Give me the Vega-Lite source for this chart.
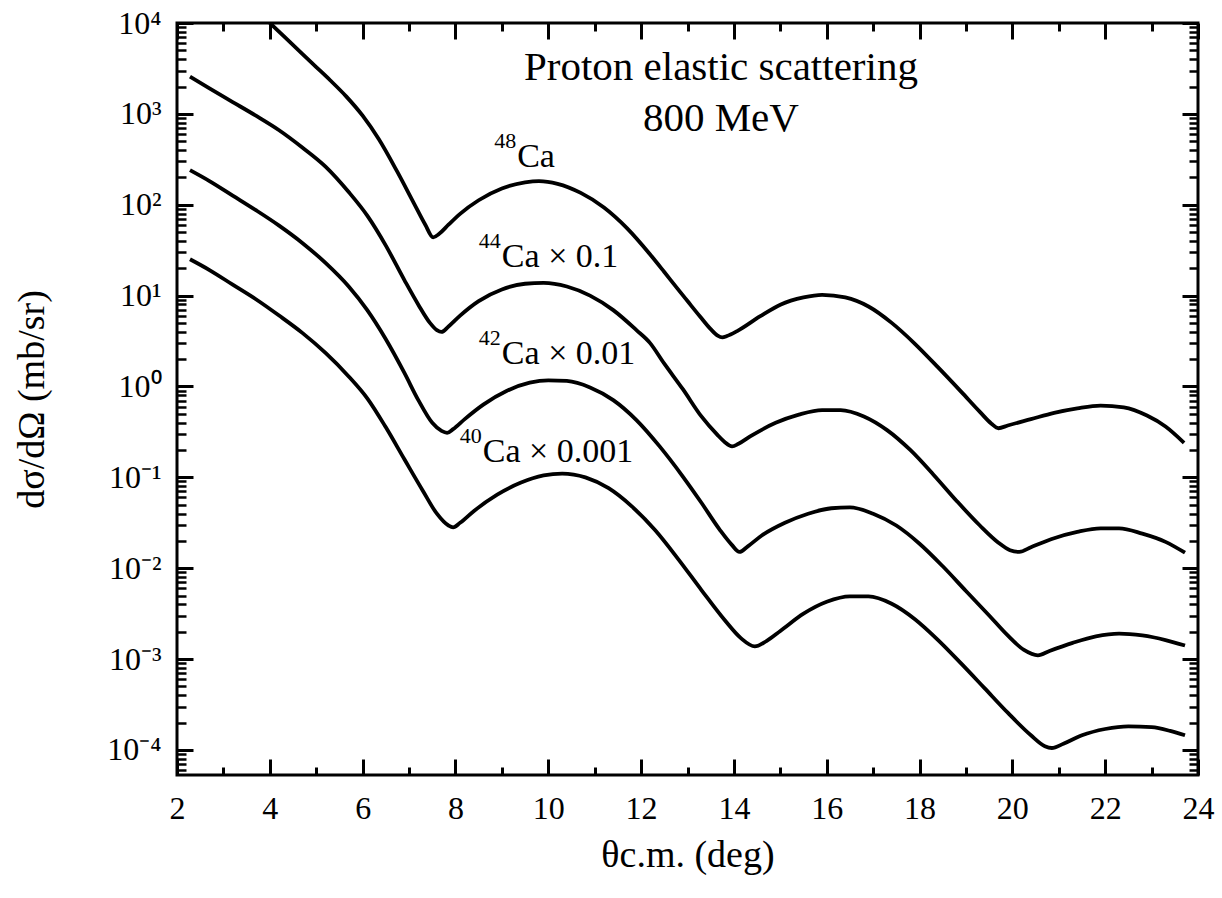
{
  "$schema": "https://vega.github.io/schema/vega-lite/v6.json",
  "width": 1021,
  "height": 752,
  "autosize": {"type": "none"},
  "padding": {"left": 177, "top": 23, "right": 24, "bottom": 123},
  "background": "white",
  "config": {
    "view": {"stroke": "black", "strokeWidth": 3},
    "font": "Liberation Serif",
    "axis": {
      "grid": false,
      "domain": false,
      "tickColor": "black",
      "labelColor": "black",
      "titleColor": "black",
      "labelFont": "Liberation Serif",
      "titleFont": "Liberation Serif",
      "titleFontWeight": "normal",
      "labelFlush": false,
      "labelOverlap": false
    }
  },
  "datasets": {
    "curves": [
      {"nucleus": "48Ca", "theta": 3.5, "xs": 17780},
      {"nucleus": "48Ca", "theta": 3.9, "xs": 11220},
      {"nucleus": "48Ca", "theta": 4.3, "xs": 7161},
      {"nucleus": "48Ca", "theta": 4.7, "xs": 4571},
      {"nucleus": "48Ca", "theta": 5.0, "xs": 3273},
      {"nucleus": "48Ca", "theta": 5.3, "xs": 2344},
      {"nucleus": "48Ca", "theta": 5.65, "xs": 1549},
      {"nucleus": "48Ca", "theta": 6.0, "xs": 955},
      {"nucleus": "48Ca", "theta": 6.35, "xs": 525},
      {"nucleus": "48Ca", "theta": 6.74, "xs": 234},
      {"nucleus": "48Ca", "theta": 7.1, "xs": 105},
      {"nucleus": "48Ca", "theta": 7.35, "xs": 60.3},
      {"nucleus": "48Ca", "theta": 7.52, "xs": 43.7},
      {"nucleus": "48Ca", "theta": 7.65, "xs": 47.9},
      {"nucleus": "48Ca", "theta": 7.85, "xs": 60.3},
      {"nucleus": "48Ca", "theta": 8.1, "xs": 79.4},
      {"nucleus": "48Ca", "theta": 8.5, "xs": 112},
      {"nucleus": "48Ca", "theta": 9.0, "xs": 151},
      {"nucleus": "48Ca", "theta": 9.5, "xs": 176},
      {"nucleus": "48Ca", "theta": 9.8, "xs": 182},
      {"nucleus": "48Ca", "theta": 10.2, "xs": 170},
      {"nucleus": "48Ca", "theta": 10.7, "xs": 135},
      {"nucleus": "48Ca", "theta": 11.2, "xs": 93.3},
      {"nucleus": "48Ca", "theta": 11.7, "xs": 55.0},
      {"nucleus": "48Ca", "theta": 12.2, "xs": 28.2},
      {"nucleus": "48Ca", "theta": 12.5, "xs": 18.2},
      {"nucleus": "48Ca", "theta": 12.78, "xs": 12.0},
      {"nucleus": "48Ca", "theta": 13.0, "xs": 8.71},
      {"nucleus": "48Ca", "theta": 13.27, "xs": 5.89},
      {"nucleus": "48Ca", "theta": 13.5, "xs": 4.27},
      {"nucleus": "48Ca", "theta": 13.65, "xs": 3.63},
      {"nucleus": "48Ca", "theta": 13.75, "xs": 3.47},
      {"nucleus": "48Ca", "theta": 13.85, "xs": 3.59},
      {"nucleus": "48Ca", "theta": 14.07, "xs": 4.07},
      {"nucleus": "48Ca", "theta": 14.56, "xs": 5.89},
      {"nucleus": "48Ca", "theta": 15.0, "xs": 7.94},
      {"nucleus": "48Ca", "theta": 15.5, "xs": 9.55},
      {"nucleus": "48Ca", "theta": 15.9, "xs": 10.2},
      {"nucleus": "48Ca", "theta": 16.4, "xs": 9.55},
      {"nucleus": "48Ca", "theta": 16.9, "xs": 7.59},
      {"nucleus": "48Ca", "theta": 17.4, "xs": 5.01},
      {"nucleus": "48Ca", "theta": 17.9, "xs": 2.95},
      {"nucleus": "48Ca", "theta": 18.4, "xs": 1.62},
      {"nucleus": "48Ca", "theta": 18.9, "xs": 0.871},
      {"nucleus": "48Ca", "theta": 19.3, "xs": 0.525},
      {"nucleus": "48Ca", "theta": 19.55, "xs": 0.389},
      {"nucleus": "48Ca", "theta": 19.7, "xs": 0.347},
      {"nucleus": "48Ca", "theta": 19.9, "xs": 0.372},
      {"nucleus": "48Ca", "theta": 20.4, "xs": 0.437},
      {"nucleus": "48Ca", "theta": 20.9, "xs": 0.513},
      {"nucleus": "48Ca", "theta": 21.4, "xs": 0.575},
      {"nucleus": "48Ca", "theta": 21.9, "xs": 0.617},
      {"nucleus": "48Ca", "theta": 22.4, "xs": 0.589},
      {"nucleus": "48Ca", "theta": 22.9, "xs": 0.479},
      {"nucleus": "48Ca", "theta": 23.3, "xs": 0.363},
      {"nucleus": "48Ca", "theta": 23.7, "xs": 0.24},

      {"nucleus": "44Ca", "theta": 2.28, "xs": 2570},
      {"nucleus": "44Ca", "theta": 2.7, "xs": 1905},
      {"nucleus": "44Ca", "theta": 3.2, "xs": 1349},
      {"nucleus": "44Ca", "theta": 3.7, "xs": 955},
      {"nucleus": "44Ca", "theta": 4.2, "xs": 661},
      {"nucleus": "44Ca", "theta": 4.7, "xs": 427},
      {"nucleus": "44Ca", "theta": 5.2, "xs": 263},
      {"nucleus": "44Ca", "theta": 5.7, "xs": 138},
      {"nucleus": "44Ca", "theta": 6.1, "xs": 75.9},
      {"nucleus": "44Ca", "theta": 6.5, "xs": 35.5},
      {"nucleus": "44Ca", "theta": 6.9, "xs": 14.8},
      {"nucleus": "44Ca", "theta": 7.2, "xs": 7.94},
      {"nucleus": "44Ca", "theta": 7.45, "xs": 5.01},
      {"nucleus": "44Ca", "theta": 7.6, "xs": 4.17},
      {"nucleus": "44Ca", "theta": 7.7, "xs": 3.98},
      {"nucleus": "44Ca", "theta": 7.85, "xs": 4.57},
      {"nucleus": "44Ca", "theta": 8.1, "xs": 6.03},
      {"nucleus": "44Ca", "theta": 8.5, "xs": 8.71},
      {"nucleus": "44Ca", "theta": 9.0, "xs": 11.7},
      {"nucleus": "44Ca", "theta": 9.5, "xs": 13.5},
      {"nucleus": "44Ca", "theta": 9.9, "xs": 13.8},
      {"nucleus": "44Ca", "theta": 10.4, "xs": 12.6},
      {"nucleus": "44Ca", "theta": 10.9, "xs": 10.0},
      {"nucleus": "44Ca", "theta": 11.4, "xs": 6.92},
      {"nucleus": "44Ca", "theta": 11.9, "xs": 4.17},
      {"nucleus": "44Ca", "theta": 12.19, "xs": 3.02},
      {"nucleus": "44Ca", "theta": 12.5, "xs": 1.78},
      {"nucleus": "44Ca", "theta": 12.9, "xs": 0.933},
      {"nucleus": "44Ca", "theta": 13.3, "xs": 0.468},
      {"nucleus": "44Ca", "theta": 13.64, "xs": 0.295},
      {"nucleus": "44Ca", "theta": 13.8, "xs": 0.245},
      {"nucleus": "44Ca", "theta": 13.96, "xs": 0.219},
      {"nucleus": "44Ca", "theta": 14.1, "xs": 0.234},
      {"nucleus": "44Ca", "theta": 14.35, "xs": 0.282},
      {"nucleus": "44Ca", "theta": 14.9, "xs": 0.398},
      {"nucleus": "44Ca", "theta": 15.4, "xs": 0.49},
      {"nucleus": "44Ca", "theta": 15.9, "xs": 0.55},
      {"nucleus": "44Ca", "theta": 16.3, "xs": 0.55},
      {"nucleus": "44Ca", "theta": 16.8, "xs": 0.468},
      {"nucleus": "44Ca", "theta": 17.3, "xs": 0.331},
      {"nucleus": "44Ca", "theta": 17.8, "xs": 0.2},
      {"nucleus": "44Ca", "theta": 18.3, "xs": 0.107},
      {"nucleus": "44Ca", "theta": 18.8, "xs": 0.055},
      {"nucleus": "44Ca", "theta": 19.3, "xs": 0.0295},
      {"nucleus": "44Ca", "theta": 19.7, "xs": 0.0191},
      {"nucleus": "44Ca", "theta": 19.95, "xs": 0.0158},
      {"nucleus": "44Ca", "theta": 20.15, "xs": 0.0151},
      {"nucleus": "44Ca", "theta": 20.4, "xs": 0.017},
      {"nucleus": "44Ca", "theta": 20.9, "xs": 0.0214},
      {"nucleus": "44Ca", "theta": 21.4, "xs": 0.0251},
      {"nucleus": "44Ca", "theta": 21.9, "xs": 0.0275},
      {"nucleus": "44Ca", "theta": 22.3, "xs": 0.0275},
      {"nucleus": "44Ca", "theta": 22.8, "xs": 0.024},
      {"nucleus": "44Ca", "theta": 23.3, "xs": 0.0195},
      {"nucleus": "44Ca", "theta": 23.72, "xs": 0.0148},

      {"nucleus": "42Ca", "theta": 2.28, "xs": 240},
      {"nucleus": "42Ca", "theta": 2.7, "xs": 182},
      {"nucleus": "42Ca", "theta": 3.2, "xs": 126},
      {"nucleus": "42Ca", "theta": 3.7, "xs": 87.1},
      {"nucleus": "42Ca", "theta": 4.2, "xs": 58.9},
      {"nucleus": "42Ca", "theta": 4.7, "xs": 38.0},
      {"nucleus": "42Ca", "theta": 5.2, "xs": 22.9},
      {"nucleus": "42Ca", "theta": 5.7, "xs": 12.6},
      {"nucleus": "42Ca", "theta": 6.1, "xs": 6.92},
      {"nucleus": "42Ca", "theta": 6.5, "xs": 3.31},
      {"nucleus": "42Ca", "theta": 6.9, "xs": 1.41},
      {"nucleus": "42Ca", "theta": 7.2, "xs": 0.708},
      {"nucleus": "42Ca", "theta": 7.5, "xs": 0.398},
      {"nucleus": "42Ca", "theta": 7.7, "xs": 0.324},
      {"nucleus": "42Ca", "theta": 7.82, "xs": 0.309},
      {"nucleus": "42Ca", "theta": 7.95, "xs": 0.339},
      {"nucleus": "42Ca", "theta": 8.2, "xs": 0.437},
      {"nucleus": "42Ca", "theta": 8.6, "xs": 0.631},
      {"nucleus": "42Ca", "theta": 9.1, "xs": 0.891},
      {"nucleus": "42Ca", "theta": 9.6, "xs": 1.1},
      {"nucleus": "42Ca", "theta": 10.0, "xs": 1.17},
      {"nucleus": "42Ca", "theta": 10.4, "xs": 1.15},
      {"nucleus": "42Ca", "theta": 10.9, "xs": 0.977},
      {"nucleus": "42Ca", "theta": 11.4, "xs": 0.708},
      {"nucleus": "42Ca", "theta": 11.9, "xs": 0.427},
      {"nucleus": "42Ca", "theta": 12.4, "xs": 0.219},
      {"nucleus": "42Ca", "theta": 12.9, "xs": 0.102},
      {"nucleus": "42Ca", "theta": 13.3, "xs": 0.0525},
      {"nucleus": "42Ca", "theta": 13.7, "xs": 0.0263},
      {"nucleus": "42Ca", "theta": 13.95, "xs": 0.0182},
      {"nucleus": "42Ca", "theta": 14.12, "xs": 0.0151},
      {"nucleus": "42Ca", "theta": 14.3, "xs": 0.0174},
      {"nucleus": "42Ca", "theta": 14.6, "xs": 0.0229},
      {"nucleus": "42Ca", "theta": 15.1, "xs": 0.0316},
      {"nucleus": "42Ca", "theta": 15.6, "xs": 0.0398},
      {"nucleus": "42Ca", "theta": 16.1, "xs": 0.0457},
      {"nucleus": "42Ca", "theta": 16.5, "xs": 0.0468},
      {"nucleus": "42Ca", "theta": 17.0, "xs": 0.0398},
      {"nucleus": "42Ca", "theta": 17.5, "xs": 0.0295},
      {"nucleus": "42Ca", "theta": 18.0, "xs": 0.0186},
      {"nucleus": "42Ca", "theta": 18.5, "xs": 0.0105},
      {"nucleus": "42Ca", "theta": 19.0, "xs": 0.00562},
      {"nucleus": "42Ca", "theta": 19.5, "xs": 0.00302},
      {"nucleus": "42Ca", "theta": 19.9, "xs": 0.00182},
      {"nucleus": "42Ca", "theta": 20.25, "xs": 0.00126},
      {"nucleus": "42Ca", "theta": 20.55, "xs": 0.0011},
      {"nucleus": "42Ca", "theta": 20.8, "xs": 0.00123},
      {"nucleus": "42Ca", "theta": 21.3, "xs": 0.00151},
      {"nucleus": "42Ca", "theta": 21.8, "xs": 0.00178},
      {"nucleus": "42Ca", "theta": 22.3, "xs": 0.00191},
      {"nucleus": "42Ca", "theta": 22.8, "xs": 0.00182},
      {"nucleus": "42Ca", "theta": 23.3, "xs": 0.00162},
      {"nucleus": "42Ca", "theta": 23.72, "xs": 0.00141},

      {"nucleus": "40Ca", "theta": 2.28, "xs": 25.1},
      {"nucleus": "40Ca", "theta": 2.7, "xs": 19.1},
      {"nucleus": "40Ca", "theta": 3.2, "xs": 13.2},
      {"nucleus": "40Ca", "theta": 3.7, "xs": 9.12},
      {"nucleus": "40Ca", "theta": 4.2, "xs": 6.03},
      {"nucleus": "40Ca", "theta": 4.7, "xs": 3.89},
      {"nucleus": "40Ca", "theta": 5.2, "xs": 2.34},
      {"nucleus": "40Ca", "theta": 5.7, "xs": 1.29},
      {"nucleus": "40Ca", "theta": 6.1, "xs": 0.741},
      {"nucleus": "40Ca", "theta": 6.5, "xs": 0.355},
      {"nucleus": "40Ca", "theta": 6.9, "xs": 0.158},
      {"nucleus": "40Ca", "theta": 7.3, "xs": 0.0708},
      {"nucleus": "40Ca", "theta": 7.6, "xs": 0.0398},
      {"nucleus": "40Ca", "theta": 7.85, "xs": 0.0295},
      {"nucleus": "40Ca", "theta": 7.95, "xs": 0.0282},
      {"nucleus": "40Ca", "theta": 8.1, "xs": 0.0316},
      {"nucleus": "40Ca", "theta": 8.4, "xs": 0.0427},
      {"nucleus": "40Ca", "theta": 8.9, "xs": 0.0646},
      {"nucleus": "40Ca", "theta": 9.4, "xs": 0.0871},
      {"nucleus": "40Ca", "theta": 9.9, "xs": 0.105},
      {"nucleus": "40Ca", "theta": 10.3, "xs": 0.11},
      {"nucleus": "40Ca", "theta": 10.8, "xs": 0.1},
      {"nucleus": "40Ca", "theta": 11.3, "xs": 0.0759},
      {"nucleus": "40Ca", "theta": 11.8, "xs": 0.0479},
      {"nucleus": "40Ca", "theta": 12.3, "xs": 0.0263},
      {"nucleus": "40Ca", "theta": 12.8, "xs": 0.0126},
      {"nucleus": "40Ca", "theta": 13.3, "xs": 0.00575},
      {"nucleus": "40Ca", "theta": 13.8, "xs": 0.00269},
      {"nucleus": "40Ca", "theta": 14.15, "xs": 0.0017},
      {"nucleus": "40Ca", "theta": 14.45, "xs": 0.00138},
      {"nucleus": "40Ca", "theta": 14.7, "xs": 0.00158},
      {"nucleus": "40Ca", "theta": 15.0, "xs": 0.00204},
      {"nucleus": "40Ca", "theta": 15.5, "xs": 0.00316},
      {"nucleus": "40Ca", "theta": 16.0, "xs": 0.00427},
      {"nucleus": "40Ca", "theta": 16.5, "xs": 0.0049},
      {"nucleus": "40Ca", "theta": 16.9, "xs": 0.0049},
      {"nucleus": "40Ca", "theta": 17.4, "xs": 0.00407},
      {"nucleus": "40Ca", "theta": 17.9, "xs": 0.00275},
      {"nucleus": "40Ca", "theta": 18.4, "xs": 0.00162},
      {"nucleus": "40Ca", "theta": 18.9, "xs": 0.000891},
      {"nucleus": "40Ca", "theta": 19.4, "xs": 0.000479},
      {"nucleus": "40Ca", "theta": 19.9, "xs": 0.000257},
      {"nucleus": "40Ca", "theta": 20.4, "xs": 0.000145},
      {"nucleus": "40Ca", "theta": 20.7, "xs": 0.00011},
      {"nucleus": "40Ca", "theta": 20.85, "xs": 0.000105},
      {"nucleus": "40Ca", "theta": 21.1, "xs": 0.000117},
      {"nucleus": "40Ca", "theta": 21.5, "xs": 0.000145},
      {"nucleus": "40Ca", "theta": 22.0, "xs": 0.00017},
      {"nucleus": "40Ca", "theta": 22.5, "xs": 0.000182},
      {"nucleus": "40Ca", "theta": 23.0, "xs": 0.000178},
      {"nucleus": "40Ca", "theta": 23.4, "xs": 0.000162},
      {"nucleus": "40Ca", "theta": 23.72, "xs": 0.000145}
    ],
    "labels": [
      {"iso": "48", "text": "Ca", "x": 9.33, "y": 262},
      {"iso": "44", "text": "Ca × 0.1", "x": 9.0, "y": 20.8},
      {"iso": "42", "text": "Ca × 0.01", "x": 9.0, "y": 1.75},
      {"iso": "40", "text": "Ca × 0.001", "x": 8.59, "y": 0.146}
    ],
    "heading": [
      {"text": "Proton elastic scattering", "x": 13.72, "y": 2366},
      {"text": "800 MeV", "x": 13.72, "y": 650}
    ]
  },
  "resolve": {
    "scale": {"x": "shared", "y": "shared"},
    "axis": {"x": "independent", "y": "independent"}
  },
  "layer": [
    {
      "data": {"name": "curves"},
      "mark": {"type": "line", "color": "black", "strokeWidth": 3.8, "clip": true, "interpolate": "monotone"},
      "encoding": {
        "x": {
          "field": "theta", "type": "quantitative",
          "scale": {"domain": [2, 24], "nice": false, "zero": false},
          "axis": {
            "orient": "bottom",
            "values": [2, 4, 6, 8, 10, 12, 14, 16, 18, 20, 22, 24],
            "tickSize": -16, "tickWidth": 3,
            "labelPadding": 34, "labelFontSize": 32,
            "title": "θc.m. (deg)", "titleFont": "Liberation Serif", "titleFontWeight": "normal",
            "titleFontSize": 38, "titlePadding": 12
          }
        },
        "y": {
          "field": "xs", "type": "quantitative",
          "scale": {"type": "log", "domain": [5.3e-5, 10000], "nice": false},
          "axis": {
            "orient": "left",
            "values": [0.0001, 0.001, 0.01, 0.1, 1, 10, 100, 1000, 10000],
            "labelExpr": "['10⁻⁴','10⁻³','10⁻²','10⁻¹','10⁰','10¹','10²','10³','10⁴'][round(log(datum.value)/LN10)+4]",
            "tickSize": -16, "tickWidth": 3,
            "labelPadding": 32, "labelFontSize": 32,
            "title": "dσ/dΩ (mb/sr)", "titleFont": "Liberation Serif", "titleFontWeight": "normal",
            "titleFontSize": 38, "titlePadding": 55
          }
        },
        "detail": {"field": "nucleus", "type": "nominal"}
      }
    },
    {
      "data": {"name": "labels"},
      "mark": {"type": "text", "align": "left", "baseline": "alphabetic", "fontSize": 34, "font": "Liberation Serif", "color": "black"},
      "encoding": {
        "x": {
          "field": "x", "type": "quantitative",
          "scale": {"domain": [2, 24], "nice": false, "zero": false},
          "axis": {
            "orient": "top",
            "values": [2, 4, 6, 8, 10, 12, 14, 16, 18, 20, 22, 24],
            "tickSize": -16, "tickWidth": 3, "labels": false, "title": null
          }
        },
        "y": {
          "field": "y", "type": "quantitative",
          "scale": {"type": "log", "domain": [5.3e-5, 10000], "nice": false},
          "axis": {
            "orient": "right",
            "values": [0.0001, 0.001, 0.01, 0.1, 1, 10, 100, 1000, 10000],
            "tickSize": -16, "tickWidth": 3, "labels": false, "title": null
          }
        },
        "text": {"field": "text"}
      }
    },
    {
      "data": {"name": "labels"},
      "mark": {"type": "text", "align": "right", "baseline": "alphabetic", "fontSize": 22, "dx": -1, "dy": -19, "font": "Liberation Serif", "color": "black"},
      "encoding": {
        "x": {
          "field": "x", "type": "quantitative",
          "scale": {"domain": [2, 24], "nice": false, "zero": false},
          "axis": {
            "orient": "bottom",
            "values": [3, 5, 7, 9, 11, 13, 15, 17, 19, 21, 23],
            "tickSize": -8, "tickWidth": 3, "labels": false, "title": null
          }
        },
        "y": {
          "field": "y", "type": "quantitative",
          "scale": {"type": "log", "domain": [5.3e-5, 10000], "nice": false},
          "axis": {
            "orient": "left",
            "values": [6e-5, 7e-5, 8e-5, 9e-5, 2e-4, 3e-4, 4e-4, 5e-4, 6e-4, 7e-4, 8e-4, 9e-4, 2e-3, 3e-3, 4e-3, 5e-3, 6e-3, 7e-3, 8e-3, 9e-3, 0.02, 0.03, 0.04, 0.05, 0.06, 0.07, 0.08, 0.09, 0.2, 0.3, 0.4, 0.5, 0.6, 0.7, 0.8, 0.9, 2, 3, 4, 5, 6, 7, 8, 9, 20, 30, 40, 50, 60, 70, 80, 90, 200, 300, 400, 500, 600, 700, 800, 900, 2000, 3000, 4000, 5000, 6000, 7000, 8000, 9000],
            "tickSize": -9, "tickWidth": 2.5, "labels": false, "title": null
          }
        },
        "text": {"field": "iso"}
      }
    },
    {
      "data": {"name": "heading"},
      "mark": {"type": "text", "align": "center", "baseline": "alphabetic", "fontSize": 41, "font": "Liberation Serif", "color": "black"},
      "encoding": {
        "x": {
          "field": "x", "type": "quantitative",
          "scale": {"domain": [2, 24], "nice": false, "zero": false},
          "axis": {
            "orient": "top",
            "values": [3, 5, 7, 9, 11, 13, 15, 17, 19, 21, 23],
            "tickSize": -8, "tickWidth": 3, "labels": false, "title": null
          }
        },
        "y": {
          "field": "y", "type": "quantitative",
          "scale": {"type": "log", "domain": [5.3e-5, 10000], "nice": false},
          "axis": {
            "orient": "right",
            "values": [6e-5, 7e-5, 8e-5, 9e-5, 2e-4, 3e-4, 4e-4, 5e-4, 6e-4, 7e-4, 8e-4, 9e-4, 2e-3, 3e-3, 4e-3, 5e-3, 6e-3, 7e-3, 8e-3, 9e-3, 0.02, 0.03, 0.04, 0.05, 0.06, 0.07, 0.08, 0.09, 0.2, 0.3, 0.4, 0.5, 0.6, 0.7, 0.8, 0.9, 2, 3, 4, 5, 6, 7, 8, 9, 20, 30, 40, 50, 60, 70, 80, 90, 200, 300, 400, 500, 600, 700, 800, 900, 2000, 3000, 4000, 5000, 6000, 7000, 8000, 9000],
            "tickSize": -9, "tickWidth": 2.5, "labels": false, "title": null
          }
        },
        "text": {"field": "text"}
      }
    }
  ]
}
